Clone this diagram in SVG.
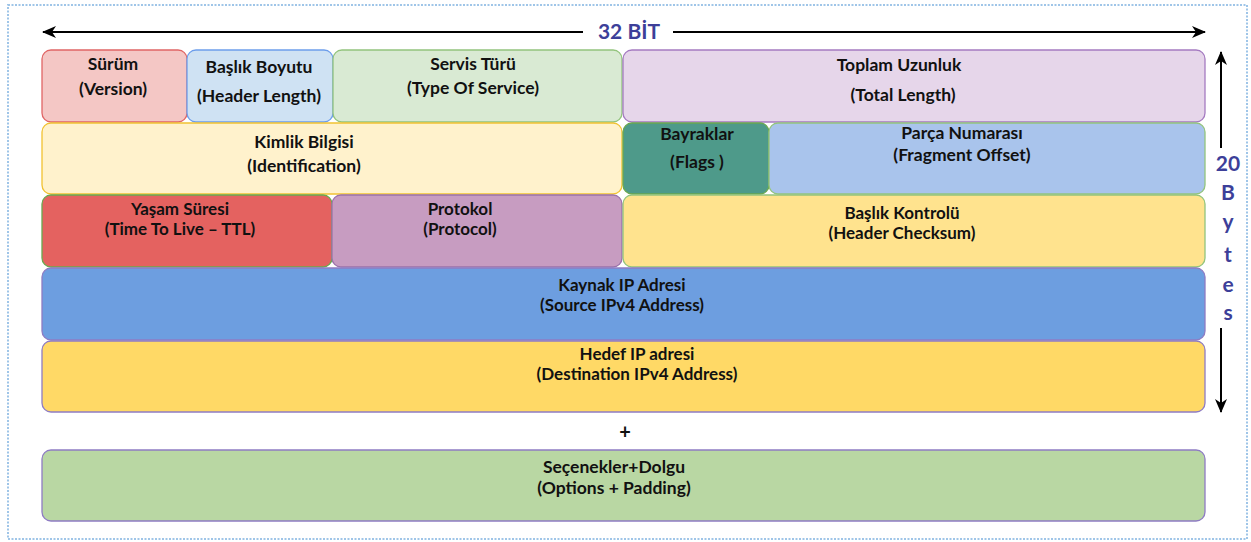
<svg xmlns="http://www.w3.org/2000/svg" width="1251" height="542" viewBox="0 0 1251 542">
<defs>
<marker id="ah" viewBox="0 0 14 12" refX="13" refY="6" markerWidth="14" markerHeight="12" markerUnits="userSpaceOnUse" orient="auto-start-reverse">
<path d="M0,0 L14,6 L0,12 L4,6 Z" fill="#000"/>
</marker>
</defs>
<style>
.t{font-family:Lato,"Open Sans","Liberation Sans",sans-serif;font-weight:bold;font-size:17.5px;fill:#111;text-anchor:middle}
.s{font-size:17px}
.b{font-family:Lato,"Open Sans","Liberation Sans",sans-serif;font-weight:bold;font-size:21px;fill:#3d3f99;text-anchor:middle}
.box{stroke-width:1.3}
.ln{stroke:#000;stroke-width:2;fill:none}
</style>
<rect x="0" y="0" width="1251" height="542" fill="#fff"/>
<rect x="8" y="5" width="1239" height="534" fill="none" stroke="#9fc5e8" stroke-width="2" stroke-dasharray="2 1.5"/>

<g id="connectors">
<line class="ln" x1="43" y1="32" x2="583" y2="32" marker-start="url(#ah)"/>
<line class="ln" x1="673" y1="32" x2="1205" y2="32" marker-end="url(#ah)"/>
<line class="ln" x1="1221" y1="52" x2="1221" y2="148" marker-start="url(#ah)"/>
<line class="ln" x1="1221" y1="328" x2="1221" y2="412" marker-end="url(#ah)"/>
</g>

<g id="label-32bit"><text class="b" x="629" y="39">32 BİT</text></g>
<g id="label-20bytes">
<text class="b" x="1228" y="171">20</text>
<text class="b" x="1228" y="200">B</text>
<text class="b" x="1228" y="229">y</text>
<text class="b" x="1228" y="262">t</text>
<text class="b" x="1228" y="292">e</text>
<text class="b" x="1228" y="320">s</text>
</g>

<g id="version">
<rect class="box" x="42" y="50" width="145" height="72" rx="9" fill="#f4c7c5" stroke="#e06666"/>
<text class="t" x="113" y="70">Sürüm</text>
<text class="t" x="113" y="95">(Version)</text>
</g>
<g id="header-length">
<rect class="box" x="187" y="50" width="146" height="72" rx="9" fill="#cfe2f3" stroke="#6d9eeb"/>
<text class="t" x="259" y="73">Başlık Boyutu</text>
<text class="t" x="259" y="102">(Header Length)</text>
</g>
<g id="type-of-service">
<rect class="box" x="333" y="50" width="289" height="72" rx="9" fill="#d9ead3" stroke="#93c47d"/>
<text class="t" x="473" y="70">Servis Türü</text>
<text class="t" x="473" y="94">(Type Of Service)</text>
</g>
<g id="total-length">
<rect class="box" x="623" y="50" width="582" height="72" rx="9" fill="#e6d6ea" stroke="#a57bc1"/>
<text class="t" x="899" y="71">Toplam Uzunluk</text>
<text class="t" x="903" y="101">(Total Length)</text>
</g>

<g id="identification">
<rect class="box" x="42" y="123" width="580" height="71" rx="9" fill="#fff2cc" stroke="#f1c232"/>
<text class="t" x="304" y="148">Kimlik Bilgisi</text>
<text class="t" x="304" y="172">(Identification)</text>
</g>
<g id="flags">
<rect class="box" x="623" y="123" width="146" height="71" rx="9" fill="#4e9a8a" stroke="#6aa84f"/>
<text class="t" x="697" y="140">Bayraklar</text>
<text class="t" x="697" y="168">(Flags )</text>
</g>
<g id="fragment-offset">
<rect class="box" x="769" y="123" width="436" height="71" rx="9" fill="#a9c4ec" stroke="#93c47d"/>
<text class="t" x="962" y="139">Parça Numarası</text>
<text class="t" x="962" y="161">(Fragment Offset)</text>
</g>

<g id="ttl">
<rect class="box" x="42" y="195" width="290" height="72" rx="9" fill="#e46260" stroke="#6aa84f"/>
<text class="t s" x="180" y="215">Yaşam Süresi</text>
<text class="t s" x="180" y="235">(Time To Live – TTL)</text>
</g>
<g id="protocol">
<rect class="box" x="332" y="195" width="290" height="72" rx="9" fill="#c79cc1" stroke="#9b72aa"/>
<text class="t s" x="460" y="215">Protokol</text>
<text class="t s" x="460" y="235">(Protocol)</text>
</g>
<g id="header-checksum">
<rect class="box" x="623" y="195" width="582" height="72" rx="9" fill="#ffe38e" stroke="#93c47d"/>
<text class="t s" x="902" y="219">Başlık Kontrolü</text>
<text class="t s" x="902" y="239">(Header Checksum)</text>
</g>

<g id="source-ip">
<rect class="box" x="42" y="268" width="1163" height="72" rx="9" fill="#6d9ee0" stroke="#8e7cc3"/>
<text class="t s" x="622" y="291">Kaynak IP Adresi</text>
<text class="t s" x="622" y="311">(Source IPv4 Address)</text>
</g>
<g id="destination-ip">
<rect class="box" x="42" y="341" width="1163" height="71" rx="9" fill="#ffd966" stroke="#8e7cc3"/>
<text class="t s" x="637" y="360">Hedef IP adresi</text>
<text class="t s" x="637" y="380">(Destination IPv4 Address)</text>
</g>

<g id="plus"><text class="t" x="625" y="439" style="font-size:20px">+</text></g>

<g id="options-padding">
<rect class="box" x="42" y="450" width="1163" height="71" rx="9" fill="#b9d7a3" stroke="#8e7cc3"/>
<text class="t" x="614" y="473">Seçenekler+Dolgu</text>
<text class="t" x="614" y="494">(Options + Padding)</text>
</g>
</svg>
